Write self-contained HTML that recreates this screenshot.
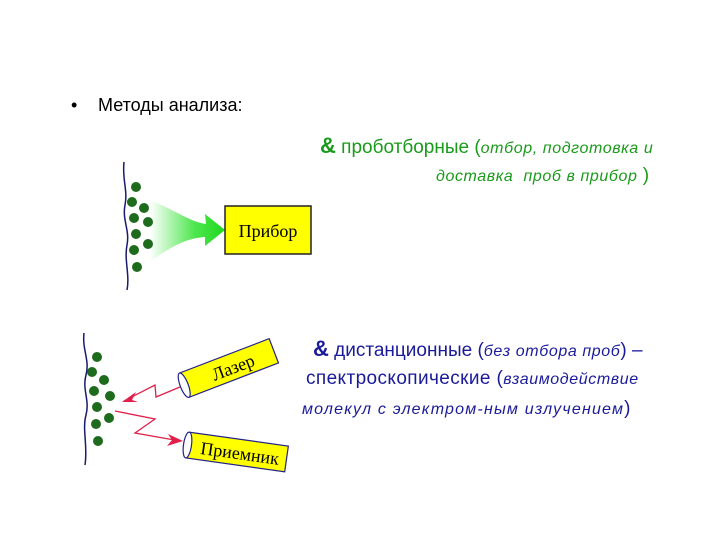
<!DOCTYPE html>
<html><head><meta charset="utf-8"><style>
body{margin:0;background:#fff;width:720px;height:540px;overflow:hidden;position:relative;font-family:"Liberation Sans",sans-serif;color:#000}
.t{position:absolute;white-space:nowrap}
i{font-size:16px;letter-spacing:0.6px}
.a{font-size:22px;font-weight:bold}
.g{color:#1a9a1a}
.b{color:#1a1a9a}
</style></head><body>
<div class="t" style="left:71px;top:95px;font-size:18px">•</div>
<div class="t" style="left:98px;top:95px;font-size:18px">Методы анализа:</div>
<div class="t g" style="left:320px;top:133px;font-size:19px"><span class="a">&amp;</span> проботборные (<i>отбор, подготовка и</i></div>
<div class="t g" style="left:436px;top:165px;font-size:19px"><i>доставка&nbsp; проб в прибор</i>&nbsp;)</div>
<div class="t b" style="left:313px;top:336px;font-size:19px"><span class="a">&amp;</span> дистанционные (<i>без отбора проб</i>) –</div>
<div class="t b" style="left:306px;top:368px;font-size:19px;letter-spacing:0.4px">спектроскопические (<i>взаимодействие</i></div>
<div class="t b" style="left:302px;top:398px;font-size:19px"><i style="letter-spacing:1.2px">молекул с электром-ным излучением</i>)</div>
<svg width="720" height="540" style="position:absolute;left:0;top:0">
<defs>
<linearGradient id="g" x1="0" x2="1"><stop offset="0" stop-color="#fff"/><stop offset="0.6" stop-color="#4de64d"/><stop offset="1" stop-color="#1ed81e"/></linearGradient>
</defs>
<path d="M124 162 C122 180,128 190,125 205 C122 220,130 230,127 245 C124 260,130 275,127 290" stroke="#1a1a6e" stroke-width="1.5" fill="none"/>
<path d="M150 200 C175 210,190 222,206 224 L205 214 L225 230 L205 246 L205 237 C190 238,175 243,150 262 Z" fill="url(#g)"/>
<g fill="#1e6b1e">
<circle cx="136" cy="187" r="5"/><circle cx="132" cy="202" r="5"/><circle cx="144" cy="208" r="5"/><circle cx="134" cy="218" r="5"/><circle cx="148" cy="222" r="5"/><circle cx="136" cy="234" r="5"/><circle cx="148" cy="244" r="5"/><circle cx="134" cy="250" r="5"/><circle cx="137" cy="267" r="5"/>
</g>
<rect x="225" y="206" width="86" height="48" fill="#ffff00" stroke="#222" stroke-width="1.5"/>
<text x="268" y="237" text-anchor="middle" font-family="Liberation Serif,serif" font-size="18">Прибор</text>

<path d="M84 333 C82 350,90 360,86 375 C82 390,90 400,86 415 C82 430,88 445,85 465" stroke="#1a1a6e" stroke-width="1.5" fill="none"/>
<g fill="#1e6b1e">
<circle cx="97" cy="357" r="5"/><circle cx="92" cy="372" r="5"/><circle cx="104" cy="380" r="5"/><circle cx="94" cy="391" r="5"/><circle cx="110" cy="396" r="5"/><circle cx="97" cy="407" r="5"/><circle cx="109" cy="418" r="5"/><circle cx="96" cy="424" r="5"/><circle cx="98" cy="441" r="5"/>
</g>
<g transform="translate(229,368) rotate(-21)">
<rect x="-48" y="-13" width="96" height="26" fill="#ffff00" stroke="#22228a" stroke-width="1.2"/>
<ellipse cx="-48" cy="0" rx="4" ry="13" fill="#fff" stroke="#22228a" stroke-width="1.2"/>
<text x="4" y="7" text-anchor="middle" font-family="Liberation Serif,serif" font-size="18">Лазер</text>
</g>
<g transform="translate(237,452) rotate(8)">
<rect x="-50" y="-13" width="100" height="26" fill="#ffff00" stroke="#22228a" stroke-width="1.2"/>
<ellipse cx="-50" cy="0" rx="4" ry="13" fill="#fff" stroke="#22228a" stroke-width="1.2"/>
<text x="3" y="7" text-anchor="middle" font-family="Liberation Serif,serif" font-size="18">Приемник</text>
</g>
<g stroke="#e0204a" stroke-width="1.3" fill="none">
<polyline points="180,387 156,397 155,385 124,401"/>
<polyline points="115,411 155,419 135,433 180,441"/>
</g>
<polygon points="122,402 136,392 132,400 138,402" fill="#e0204a"/>
<polygon points="183,441 168,434 172,440 167,446" fill="#e0204a"/>
</svg>
</body></html>
